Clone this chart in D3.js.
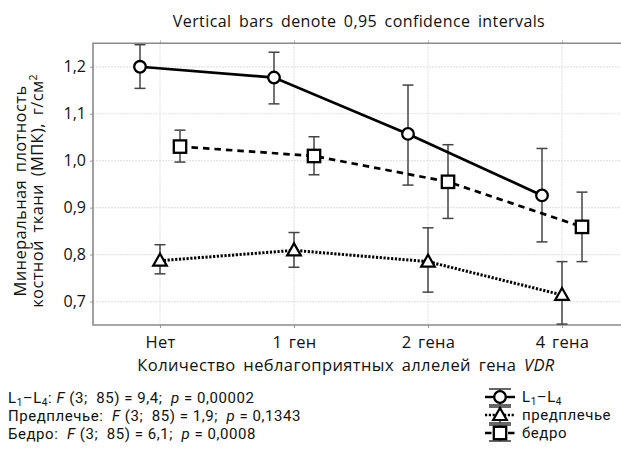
<!DOCTYPE html>
<html><head><meta charset="utf-8">
<script src="https://cdn.jsdelivr.net/npm/d3@7"></script>
<style>
html,body{margin:0;padding:0;background:#fff;}
svg{display:block;font-family:"Open Sans",sans-serif;}
</style></head>
<body><svg id="c" width="621" height="449"></svg>
<script>
const categories = ["Нет", "1 ген", "2 гена", "4 гена"];
const yTicks = [0.7, 0.8, 0.9, 1.0, 1.1, 1.2];
const l1l4Mean = [1.200, 1.177, 1.057, 0.926];
const l1l4Lo   = [1.154, 1.121, 0.948, 0.827];
const l1l4Hi   = [1.247, 1.231, 1.161, 1.026];
const forearmMean = [0.787, 0.809, 0.785, 0.714];
const forearmLo   = [0.759, 0.773, 0.720, 0.652];
const forearmHi   = [0.821, 0.847, 0.857, 0.785];
const femurMean = [1.030, 1.010, 0.955, 0.859];
const femurLo   = [0.997, 0.970, 0.877, 0.785];
const femurHi   = [1.065, 1.051, 1.034, 0.933];
const titleText = "Vertical bars denote 0,95 confidence intervals";
const yTitle1 = "Минеральная плотность";
const yTitle2 = "костной ткани (МПК), г/см";
const xTitle = "Количество неблагоприятных аллелей гена ";

const svg = d3.select("#c");
const L = 93, R = 629, T = 43.3, B = 325;
const x = d3.scalePoint().domain(categories).range([L, R]).padding(0.5);
const y = d3.scaleLinear().domain([0.65, 1.25]).range([B, T]);

const series = [
  {name:"l1", mean:l1l4Mean, lo:l1l4Lo, hi:l1l4Hi, off:-20, dash:null, shape:"circle"},
  {name:"fa", mean:forearmMean, lo:forearmLo, hi:forearmHi, off:0, dash:"2.2,1.6", shape:"triangle"},
  {name:"fe", mean:femurMean, lo:femurLo, hi:femurHi, off:20, dash:"6.5,5", shape:"square"}
];

// grid
const g = svg.append("g");
g.selectAll("line.hg").data(yTicks).join("line")
  .attr("x1", L).attr("x2", R).attr("y1", d=>y(d)).attr("y2", d=>y(d))
  .attr("stroke", "#e4e4e4").attr("stroke-width", 1.2).attr("stroke-dasharray","2,1");
g.selectAll("line.vg").data(categories).join("line")
  .attr("x1", d=>x(d)).attr("x2", d=>x(d)).attr("y1", T).attr("y2", B)
  .attr("stroke", "#e4e4e4").attr("stroke-width", 1.2).attr("stroke-dasharray","2,1");

// axes
const yAxis = d3.axisLeft(y).tickValues(yTicks).tickSize(3).tickPadding(4)
  .tickFormat(d => d3.format(".1f")(d).replace(".", ","));
const ya = svg.append("g").attr("transform", `translate(${L},0)`).call(yAxis);
ya.select(".domain").remove();
ya.selectAll(".tick line").attr("stroke", "#999");
ya.selectAll("text").attr("font-size", 16).attr("fill", "#111").attr("font-family","Open Sans");

const xAxis = d3.axisBottom(x).tickSize(3).tickPadding(5);
const xa = svg.append("g").attr("transform", `translate(0,${B})`).call(xAxis);
xa.select(".domain").remove();
xa.selectAll(".tick line").attr("stroke", "#999");
xa.selectAll("text").attr("font-size", 16.5).attr("fill", "#111").attr("font-family","Open Sans")
  .attr("dy","0.9em").style("word-spacing","2px").style("letter-spacing","0.3px");

const xt = d3.axisTop(x).tickSize(3).tickFormat("");
const xta = svg.append("g").attr("transform", `translate(0,${T})`).call(xt);
xta.select(".domain").remove();
xta.selectAll(".tick line").attr("stroke", "#bbb");

// frame
svg.append("path").attr("d", `M${R},${T}H${L}V${B}H${R}`)
  .attr("fill","none").attr("stroke","#8a8a8a").attr("stroke-width",1.6);

// error bars
series.forEach(s => {
  const eg = svg.append("g").attr("stroke","#444").attr("stroke-width",1.5).attr("fill","none");
  categories.forEach((c,i) => {
    const cx = x(c) + s.off;
    eg.append("line").attr("x1",cx).attr("x2",cx).attr("y1",y(s.lo[i])).attr("y2",y(s.hi[i]));
    eg.append("line").attr("x1",cx-5.5).attr("x2",cx+5.5).attr("y1",y(s.lo[i])).attr("y2",y(s.lo[i]));
    eg.append("line").attr("x1",cx-5.5).attr("x2",cx+5.5).attr("y1",y(s.hi[i])).attr("y2",y(s.hi[i]));
  });
});

// lines
const lineGen = d3.line();
series.forEach(s => {
  const pts = categories.map((c,i) => [x(c)+s.off, y(s.mean[i])]);
  svg.append("path").attr("d", lineGen(pts)).attr("fill","none")
    .attr("stroke","#000").attr("stroke-width", s.shape==="triangle"?3:2.7)
    .attr("stroke-dasharray", s.dash);
});

function drawMarker(sel, shape, cx, cy) {
  if (shape === "circle") {
    sel.append("circle").attr("cx",cx).attr("cy",cy).attr("r",5.8)
      .attr("fill","#fff").attr("stroke","#000").attr("stroke-width",2.3);
  } else if (shape === "square") {
    sel.append("rect").attr("x",cx-6.2).attr("y",cy-6.2).attr("width",12.4).attr("height",12.4)
      .attr("fill","#fff").attr("stroke","#000").attr("stroke-width",2.3);
  } else {
    sel.append("path").attr("d",`M${cx},${cy-7}L${cx+6.8},${cy+5}L${cx-6.8},${cy+5}Z`)
      .attr("fill","#fff").attr("stroke","#000").attr("stroke-width",2.2).attr("stroke-linejoin","miter");
  }
}
series.forEach(s => {
  const mg = svg.append("g");
  categories.forEach((c,i) => drawMarker(mg, s.shape, x(c)+s.off, y(s.mean[i])));
});

const spaced = sel => sel.style("letter-spacing","0.4px").style("word-spacing","3px");

// title
spaced(svg.append("text").attr("x", 359).attr("y", 27).attr("text-anchor","middle")
  .attr("font-size", 16).attr("fill","#111").text(titleText));

// y title
const yt = svg.append("text").attr("transform","translate(0,191) rotate(-90)")
  .attr("text-anchor","middle").attr("font-size",16.5).attr("fill","#111");
spaced(yt);
yt.append("tspan").attr("x",0).attr("y",26).text(yTitle1);
yt.append("tspan").attr("x",0).attr("y",43).text(yTitle2);
yt.append("tspan").attr("font-size",10.5).attr("dy",-6).text("2");

// x title
const xtt = svg.append("text").attr("x",346).attr("y",371).attr("text-anchor","middle")
  .attr("font-size",16.5).attr("fill","#111");
spaced(xtt);
xtt.append("tspan").text(xTitle);
xtt.append("tspan").attr("font-style","italic").text("VDR");

// stats
const bottomFont = "Roboto";
const stats = [
  {sub:true, lab:"", rest:[": ",{i:"F"}," (3;  85) = 9,4;  ",{i:"p"}," = 0,00002"]},
  {sub:false, lab:"Предплечье", rest:[":  ",{i:"F"}," (3;  85) = 1,9;  ",{i:"p"}," = 0,1343"]},
  {sub:false, lab:"Бедро", rest:[":  ",{i:"F"}," (3;  85) = 6,1;  ",{i:"p"}," = 0,0008"]}
];
stats.forEach((s, k) => {
  const t = svg.append("text").attr("x",8).attr("y",403 + k*18).attr("font-size",15)
    .attr("font-family",bottomFont)
    .attr("fill","#111").attr("xml:space","preserve").style("white-space","pre")
    .style("letter-spacing","0.55px");
  if (s.sub) {
    t.append("tspan").text("L");
    t.append("tspan").attr("font-size",10).attr("dy",2.5).text("1");
    t.append("tspan").attr("dy",-2.5).text("–L");
    t.append("tspan").attr("font-size",10).attr("dy",2.5).text("4");
    t.append("tspan").attr("dy",-2.5).text(s.rest[0]);
  } else {
    t.append("tspan").text(s.lab + s.rest[0]);
  }
  s.rest.slice(1).forEach(p => {
    if (typeof p === "string") t.append("tspan").text(p);
    else t.append("tspan").attr("font-style","italic").text(p.i);
  });
});

// legend
const legendLabels = ["L1–L4", "предплечье", "бедро"];
series.forEach((s, k) => {
  const cy = 397 + k*18, cx = 500;
  const lg = svg.append("g");
  lg.append("line").attr("x1",cx-11).attr("x2",cx+11).attr("y1",cy-8).attr("y2",cy-8).attr("stroke","#333").attr("stroke-width",1.5);
  lg.append("line").attr("x1",cx-11).attr("x2",cx+11).attr("y1",cy+8).attr("y2",cy+8).attr("stroke","#333").attr("stroke-width",1.5);
  lg.append("line").attr("x1",cx).attr("x2",cx).attr("y1",cy-8).attr("y2",cy+8).attr("stroke","#333").attr("stroke-width",1.5);
  lg.append("line").attr("x1",cx-15).attr("x2",cx+15).attr("y1",cy).attr("y2",cy)
    .attr("stroke","#000").attr("stroke-width",2.4).attr("stroke-dasharray", s.dash);
  drawMarker(lg, s.shape, cx, cy);
  const t = svg.append("text").attr("x",522).attr("y",cy+5).attr("font-size",15)
    .attr("font-family",bottomFont).style("letter-spacing","0.55px").attr("fill","#111");
  if (k === 0) {
    t.append("tspan").text("L");
    t.append("tspan").attr("font-size",10).attr("dy",2.5).text("1");
    t.append("tspan").attr("dy",-2.5).text("–L");
    t.append("tspan").attr("font-size",10).attr("dy",2.5).text("4");
  } else t.text(legendLabels[k]);
});
</script></body></html>
